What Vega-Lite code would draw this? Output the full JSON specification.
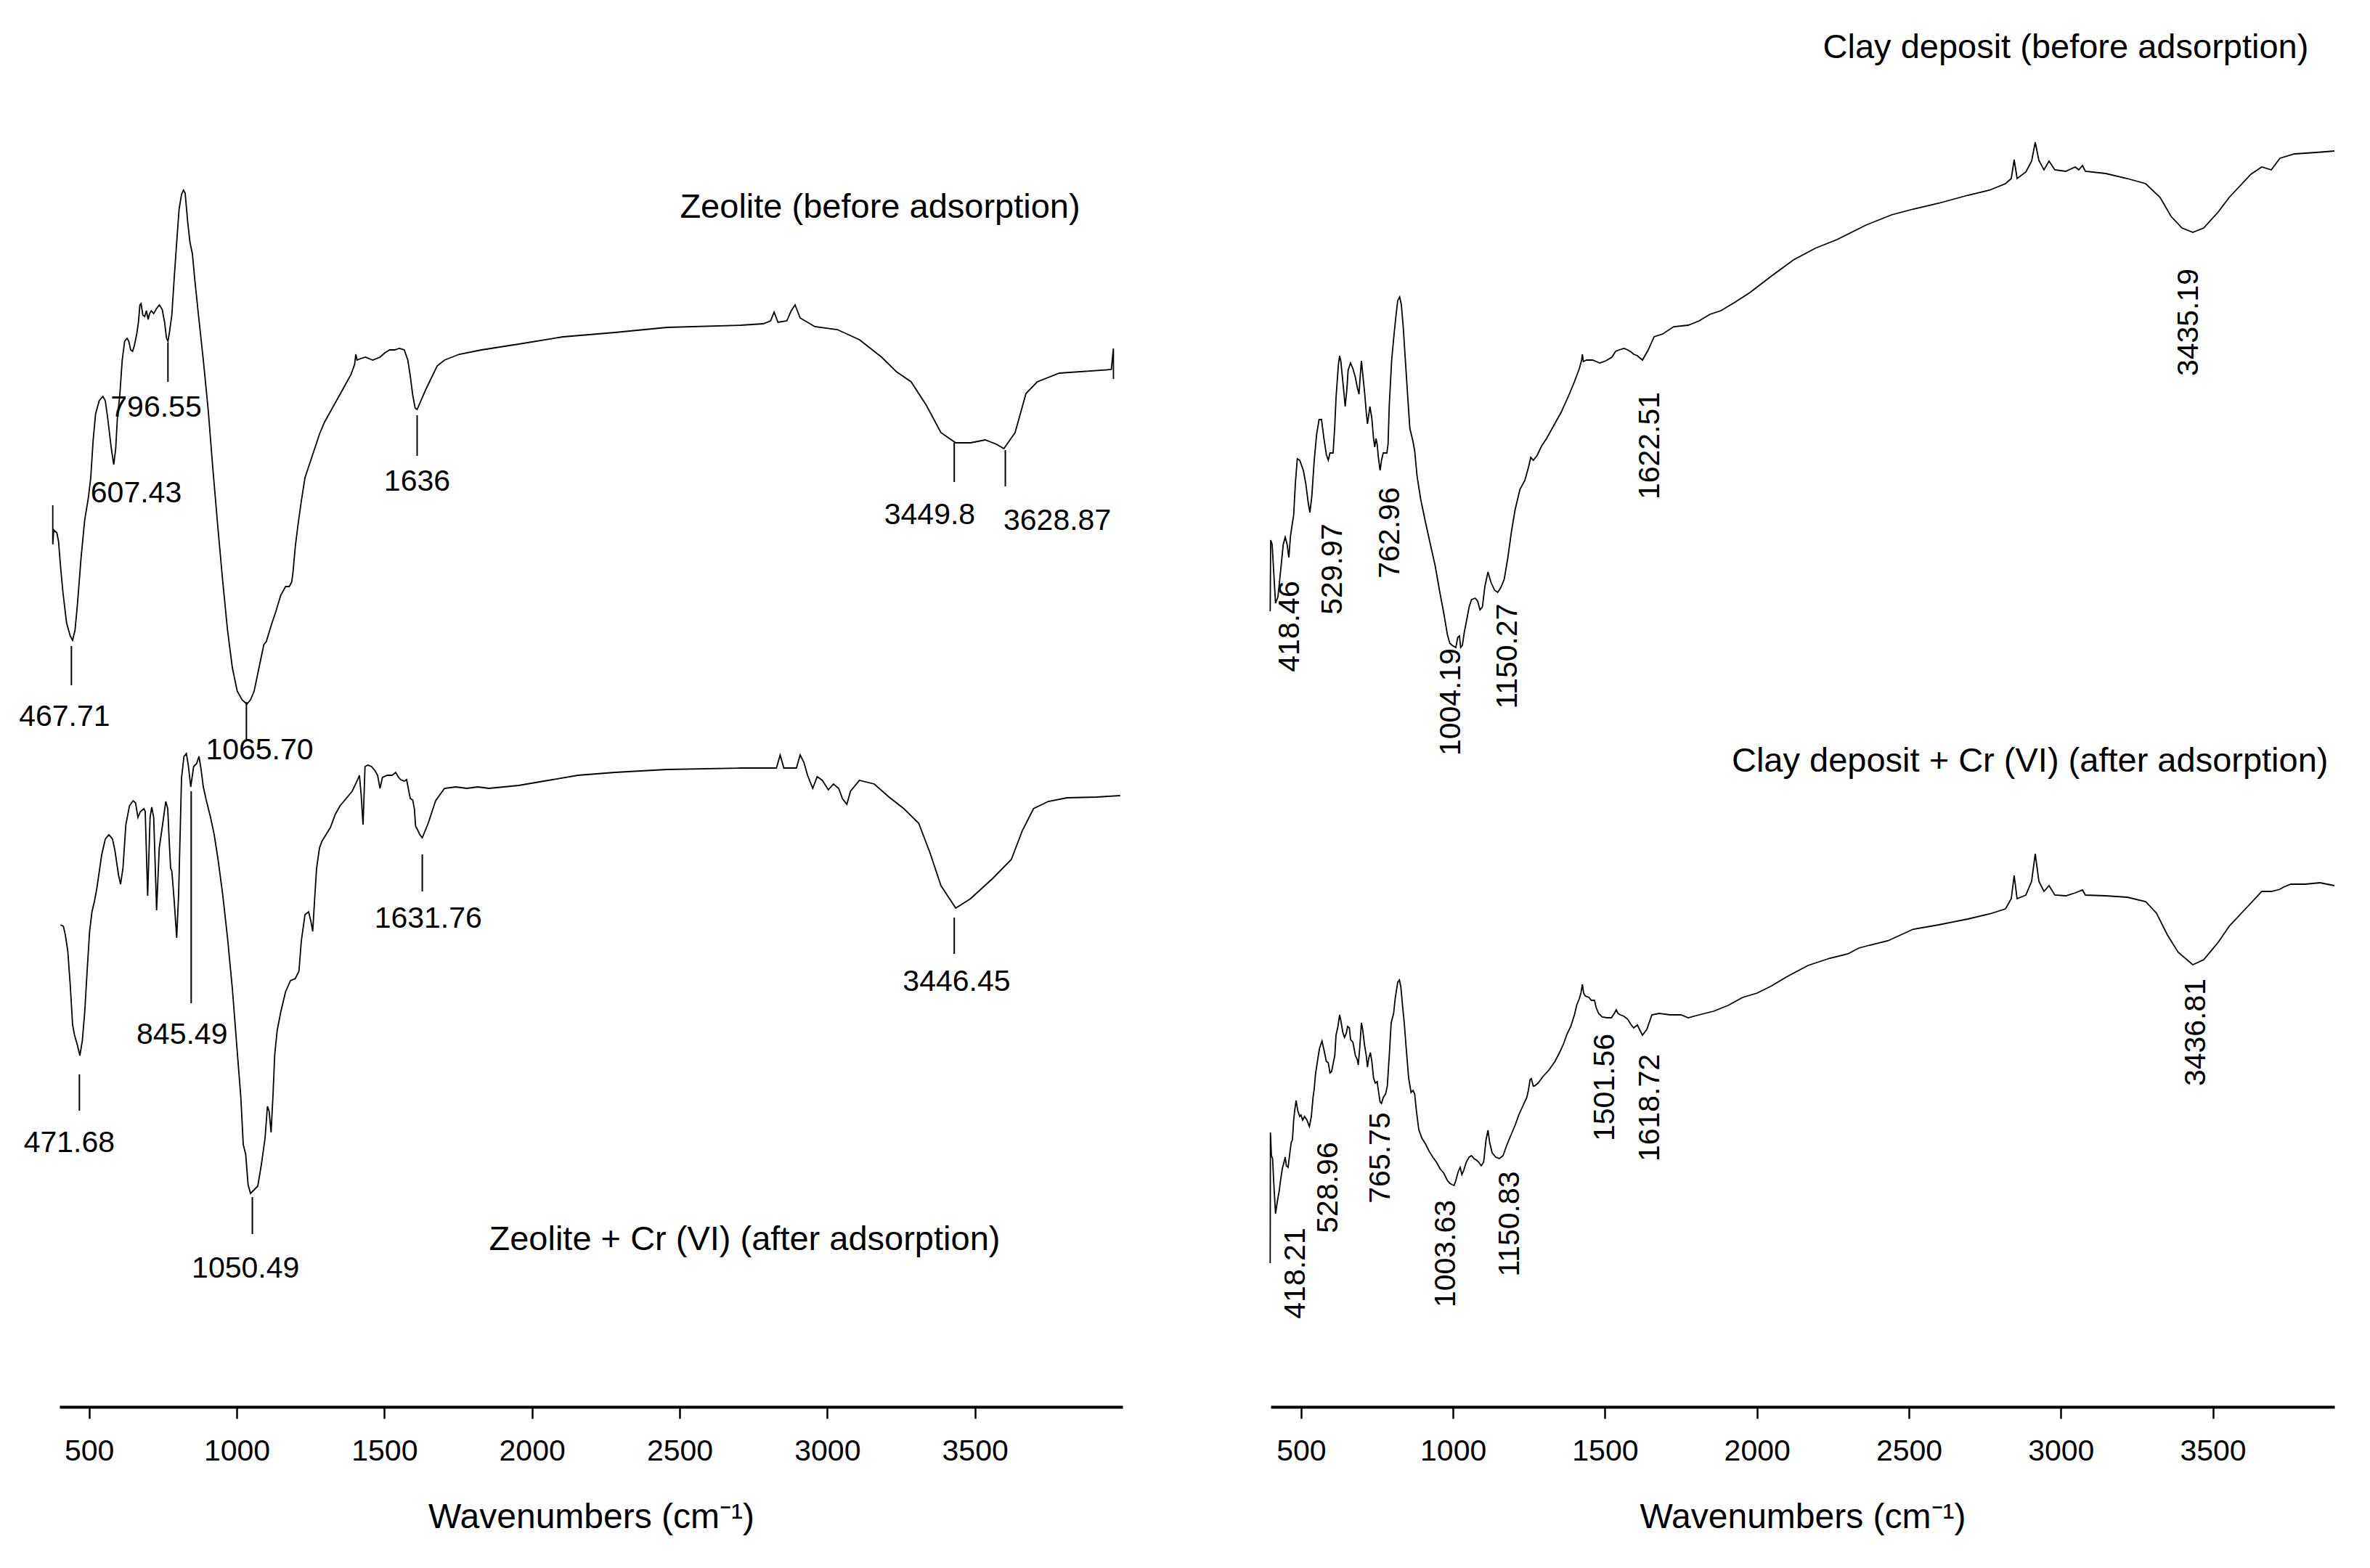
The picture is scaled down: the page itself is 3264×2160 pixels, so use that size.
{
  "$schema": "https://vega.github.io/schema/vega-lite/v6.json",
  "width": 3264,
  "height": 1938,
  "autosize": {"type": "none"},
  "padding": {"left": 0, "top": 0, "right": 0, "bottom": 222},
  "background": "white",
  "config": {"view": {"stroke": null}, "font": "Liberation Sans"},
  "datasets": {
    "zeo": [
      {"s":"a","w":377,"v":62.1},{"s":"a","w":377.1,"v":59.4},{"s":"a","w":380.3,"v":60.4},{"s":"a","w":391,"v":60.2},{"s":"a","w":396.7,"v":59.6},{"s":"a","w":403.3,"v":57.9},{"s":"a","w":411.5,"v":56.1},{"s":"a","w":423.8,"v":54.0},{"s":"a","w":436.1,"v":53.1},{"s":"a","w":444.3,"v":52.8},{"s":"a","w":452.5,"v":53.5},{"s":"a","w":460.7,"v":55.3},{"s":"a","w":473,"v":58.5},{"s":"a","w":485.3,"v":61.1},{"s":"a","w":497.5,"v":62.6},{"s":"a","w":505.7,"v":64.0},{"s":"a","w":513.9,"v":66.6},{"s":"a","w":522.1,"v":68.4},{"s":"a","w":534.4,"v":69.3},{"s":"a","w":546.7,"v":69.6},{"s":"a","w":554.9,"v":69.3},{"s":"a","w":563.1,"v":68.1},{"s":"a","w":575.4,"v":66.0},{"s":"a","w":583.6,"v":64.9},{"s":"a","w":590.2,"v":66.0},{"s":"a","w":595.9,"v":68.1},{"s":"a","w":604.1,"v":69.7},{"s":"a","w":612.3,"v":72.1},{"s":"a","w":620.5,"v":73.4},{"s":"a","w":628.7,"v":73.6},{"s":"a","w":634.4,"v":73.4},{"s":"a","w":641,"v":72.8},{"s":"a","w":647.5,"v":72.7},{"s":"a","w":653.3,"v":73.1},{"s":"a","w":661.5,"v":73.9},{"s":"a","w":667.2,"v":74.7},{"s":"a","w":672.1,"v":75.9},{"s":"a","w":676.2,"v":76.0},{"s":"a","w":682,"v":75.2},{"s":"a","w":688.5,"v":75.1},{"s":"a","w":694.3,"v":75.5},{"s":"a","w":700,"v":74.9},{"s":"a","w":705,"v":75.3},{"s":"a","w":710.7,"v":75.5},{"s":"a","w":718.9,"v":75.3},{"s":"a","w":727.1,"v":75.6},{"s":"a","w":737.7,"v":75.9},{"s":"a","w":747.6,"v":75.6},{"s":"a","w":755.8,"v":74.7},{"s":"a","w":762.3,"v":73.6},{"s":"a","w":767.2,"v":73.4},{"s":"a","w":772.1,"v":74.0},{"s":"a","w":780.3,"v":75.2},{"s":"a","w":788.5,"v":77.8},{"s":"a","w":796.7,"v":80.2},{"s":"a","w":804.9,"v":82.5},{"s":"a","w":813.1,"v":83.5},{"s":"a","w":819.7,"v":83.8},{"s":"a","w":825.4,"v":83.6},{"s":"a","w":833.6,"v":81.7},{"s":"a","w":841.8,"v":80.2},{"s":"a","w":850,"v":79.4},{"s":"a","w":858.2,"v":77.6},{"s":"a","w":870.5,"v":75.2},{"s":"a","w":886.9,"v":72.1},{"s":"a","w":903.3,"v":68.7},{"s":"a","w":919.7,"v":64.5},{"s":"a","w":936.1,"v":60.6},{"s":"a","w":952.5,"v":56.9},{"s":"a","w":968.9,"v":53.5},{"s":"a","w":985.3,"v":50.9},{"s":"a","w":1001.7,"v":49.3},{"s":"a","w":1018,"v":48.7},{"s":"a","w":1034.4,"v":48.4},{"s":"a","w":1046.7,"v":48.7},{"s":"a","w":1059,"v":49.3},{"s":"a","w":1075.4,"v":50.9},{"s":"a","w":1091.8,"v":52.5},{"s":"a","w":1100,"v":52.7},{"s":"a","w":1116.4,"v":53.8},{"s":"a","w":1132.8,"v":54.8},{"s":"a","w":1149.2,"v":55.9},{"s":"a","w":1165.6,"v":56.5},{"s":"a","w":1177.9,"v":56.5},{"s":"a","w":1186.1,"v":56.8},{"s":"a","w":1190.2,"v":57.4},{"s":"a","w":1198.4,"v":59.25},{"s":"a","w":1206.6,"v":60.6},{"s":"a","w":1218.9,"v":62.4},{"s":"a","w":1231.2,"v":64.0},{"s":"a","w":1239.4,"v":64.5},{"s":"a","w":1247.6,"v":65.0},{"s":"a","w":1264,"v":66.0},{"s":"a","w":1280.4,"v":67.0},{"s":"a","w":1296.8,"v":67.8},{"s":"a","w":1321.4,"v":68.7},{"s":"a","w":1346,"v":69.6},{"s":"a","w":1370.6,"v":70.5},{"s":"a","w":1387,"v":71.1},{"s":"a","w":1399.2,"v":71.8},{"s":"a","w":1403.3,"v":72.5},{"s":"a","w":1407.4,"v":72.1},{"s":"a","w":1419.7,"v":72.2},{"s":"a","w":1436.1,"v":72.3},{"s":"a","w":1460.7,"v":72.1},{"s":"a","w":1485.3,"v":72.3},{"s":"a","w":1501.7,"v":72.6},{"s":"a","w":1518.1,"v":72.8},{"s":"a","w":1534.5,"v":72.8},{"s":"a","w":1550.9,"v":72.9},{"s":"a","w":1567.3,"v":72.8},{"s":"a","w":1579.5,"v":72.1},{"s":"a","w":1587.8,"v":71.0},{"s":"a","w":1596,"v":69.7},{"s":"a","w":1604.2,"v":68.8},{"s":"a","w":1611,"v":68.7},{"s":"a","w":1641,"v":70.1},{"s":"a","w":1679,"v":71.7},{"s":"a","w":1704,"v":72.1},{"s":"a","w":1754,"v":72.5},{"s":"a","w":1829,"v":72.8},{"s":"a","w":1955,"v":73.2},{"s":"a","w":2105,"v":73.7},{"s":"a","w":2281,"v":74.0},{"s":"a","w":2457,"v":74.35},{"s":"a","w":2707,"v":74.5},{"s":"a","w":2783,"v":74.6},{"s":"a","w":2808,"v":74.8},{"s":"a","w":2820,"v":75.4},{"s":"a","w":2833,"v":74.7},{"s":"a","w":2863,"v":74.8},{"s":"a","w":2878,"v":75.5},{"s":"a","w":2891,"v":75.9},{"s":"a","w":2908,"v":75.0},{"s":"a","w":2958,"v":74.4},{"s":"a","w":3034,"v":74.2},{"s":"a","w":3109,"v":73.5},{"s":"a","w":3184,"v":72.3},{"s":"a","w":3234,"v":71.3},{"s":"a","w":3284,"v":70.6},{"s":"a","w":3335,"v":69.0},{"s":"a","w":3385,"v":67.1},{"s":"a","w":3435,"v":66.4},{"s":"a","w":3485,"v":66.4},{"s":"a","w":3535,"v":66.6},{"s":"a","w":3573,"v":66.3},{"s":"a","w":3598,"v":66.0},{"s":"a","w":3636,"v":67.1},{"s":"a","w":3673,"v":69.8},{"s":"a","w":3711,"v":70.6},{"s":"a","w":3786,"v":71.2},{"s":"a","w":3962,"v":71.45},{"s":"a","w":3969,"v":72.9},{"s":"a","w":3969.1,"v":70.8},
      {"s":"b","w":403.3,"v":33.2},{"s":"b","w":413.1,"v":33.1},{"s":"b","w":419.7,"v":32.5},{"s":"b","w":427.9,"v":31.4},{"s":"b","w":436.1,"v":29.1},{"s":"b","w":444.3,"v":26.3},{"s":"b","w":450.8,"v":25.6},{"s":"b","w":460.7,"v":24.9},{"s":"b","w":468.9,"v":24.2},{"s":"b","w":477.1,"v":25.2},{"s":"b","w":485.3,"v":27.2},{"s":"b","w":493.4,"v":30.0},{"s":"b","w":501.6,"v":32.7},{"s":"b","w":509.8,"v":34.1},{"s":"b","w":518,"v":34.8},{"s":"b","w":526.2,"v":35.7},{"s":"b","w":542.6,"v":38.0},{"s":"b","w":554.9,"v":39.1},{"s":"b","w":567.2,"v":39.4},{"s":"b","w":579.5,"v":39.1},{"s":"b","w":587.7,"v":38.3},{"s":"b","w":600,"v":36.6},{"s":"b","w":606.6,"v":36.0},{"s":"b","w":614.8,"v":37.1},{"s":"b","w":624.6,"v":40.1},{"s":"b","w":636.9,"v":41.4},{"s":"b","w":649.2,"v":41.75},{"s":"b","w":657.4,"v":41.6},{"s":"b","w":665.6,"v":40.6},{"s":"b","w":673.8,"v":41.0},{"s":"b","w":686.1,"v":41.2},{"s":"b","w":690.2,"v":41.0},{"s":"b","w":698.4,"v":35.2},{"s":"b","w":706.6,"v":40.6},{"s":"b","w":712.3,"v":41.3},{"s":"b","w":718.9,"v":40.6},{"s":"b","w":728.7,"v":34.2},{"s":"b","w":737.7,"v":38.5},{"s":"b","w":747.6,"v":39.9},{"s":"b","w":759.8,"v":41.7},{"s":"b","w":766.4,"v":41.2},{"s":"b","w":772.1,"v":38.7},{"s":"b","w":776.2,"v":37.1},{"s":"b","w":780.3,"v":36.9},{"s":"b","w":788.5,"v":34.8},{"s":"b","w":796.7,"v":32.3},{"s":"b","w":803.3,"v":35.3},{"s":"b","w":813.1,"v":43.3},{"s":"b","w":821.3,"v":44.8},{"s":"b","w":829.5,"v":45.0},{"s":"b","w":836.1,"v":44.2},{"s":"b","w":844.3,"v":42.7},{"s":"b","w":854.1,"v":44.1},{"s":"b","w":864,"v":44.3},{"s":"b","w":872.2,"v":44.8},{"s":"b","w":878.7,"v":44.0},{"s":"b","w":886.9,"v":42.7},{"s":"b","w":896.7,"v":41.8},{"s":"b","w":911.5,"v":40.6},{"s":"b","w":923.8,"v":39.4},{"s":"b","w":936.1,"v":37.8},{"s":"b","w":952.5,"v":35.3},{"s":"b","w":968.9,"v":32.3},{"s":"b","w":985.3,"v":28.8},{"s":"b","w":1001.7,"v":24.5},{"s":"b","w":1014,"v":21.3},{"s":"b","w":1022.2,"v":18.05},{"s":"b","w":1030.4,"v":17.4},{"s":"b","w":1038.5,"v":15.3},{"s":"b","w":1046.7,"v":14.7},{"s":"b","w":1059,"v":14.95},{"s":"b","w":1071.3,"v":15.2},{"s":"b","w":1083.6,"v":16.7},{"s":"b","w":1095.9,"v":18.5},{"s":"b","w":1104.1,"v":20.7},{"s":"b","w":1109.9,"v":20.35},{"s":"b","w":1116.4,"v":18.9},{"s":"b","w":1123,"v":21.5},{"s":"b","w":1128.7,"v":24.25},{"s":"b","w":1136.9,"v":25.9},{"s":"b","w":1149.2,"v":27.2},{"s":"b","w":1165.6,"v":28.6},{"s":"b","w":1182,"v":29.35},{"s":"b","w":1198.4,"v":29.5},{"s":"b","w":1210.7,"v":30.0},{"s":"b","w":1218.9,"v":32.1},{"s":"b","w":1231.2,"v":33.9},{"s":"b","w":1243.5,"v":34.1},{"s":"b","w":1251.7,"v":33.4},{"s":"b","w":1257.4,"v":32.75},{"s":"b","w":1264,"v":35.0},{"s":"b","w":1270.5,"v":37.1},{"s":"b","w":1280.4,"v":38.5},{"s":"b","w":1288.6,"v":38.95},{"s":"b","w":1305,"v":39.5},{"s":"b","w":1317.2,"v":39.9},{"s":"b","w":1333.6,"v":40.8},{"s":"b","w":1350,"v":41.4},{"s":"b","w":1370.6,"v":41.9},{"s":"b","w":1391,"v":42.4},{"s":"b","w":1407.4,"v":43.1},{"s":"b","w":1415.6,"v":43.5},{"s":"b","w":1421.3,"v":42.2},{"s":"b","w":1427.9,"v":40.1},{"s":"b","w":1434.5,"v":44.1},{"s":"b","w":1444.3,"v":44.2},{"s":"b","w":1456.6,"v":44.1},{"s":"b","w":1468.9,"v":43.8},{"s":"b","w":1477.1,"v":43.5},{"s":"b","w":1485.3,"v":42.6},{"s":"b","w":1493.5,"v":43.35},{"s":"b","w":1509.9,"v":43.5},{"s":"b","w":1526.3,"v":43.5},{"s":"b","w":1538.6,"v":43.7},{"s":"b","w":1546.8,"v":43.4},{"s":"b","w":1555,"v":43.2},{"s":"b","w":1567.3,"v":43.1},{"s":"b","w":1575.5,"v":43.2},{"s":"b","w":1582,"v":42.5},{"s":"b","w":1587.8,"v":41.9},{"s":"b","w":1596,"v":41.8},{"s":"b","w":1601.7,"v":41.2},{"s":"b","w":1605.8,"v":40.0},{"s":"b","w":1612.3,"v":39.75},{"s":"b","w":1620.5,"v":39.4},{"s":"b","w":1628.5,"v":39.2},{"s":"b","w":1648.6,"v":40.2},{"s":"b","w":1673.7,"v":41.75},{"s":"b","w":1703.8,"v":42.6},{"s":"b","w":1741.4,"v":42.7},{"s":"b","w":1779.1,"v":42.6},{"s":"b","w":1816.7,"v":42.7},{"s":"b","w":1854.3,"v":42.6},{"s":"b","w":1904.5,"v":42.7},{"s":"b","w":1954.7,"v":42.8},{"s":"b","w":2055.1,"v":43.15},{"s":"b","w":2155.4,"v":43.5},{"s":"b","w":2280.9,"v":43.7},{"s":"b","w":2456.5,"v":43.9},{"s":"b","w":2707.4,"v":44.0},{"s":"b","w":2827.9,"v":44.0},{"s":"b","w":2840.4,"v":44.9},{"s":"b","w":2852.9,"v":44.0},{"s":"b","w":2895.6,"v":44.0},{"s":"b","w":2908.1,"v":44.9},{"s":"b","w":2920.7,"v":44.4},{"s":"b","w":2933.2,"v":43.5},{"s":"b","w":2950.8,"v":42.6},{"s":"b","w":2965.8,"v":43.4},{"s":"b","w":2983.4,"v":43.15},{"s":"b","w":3003.5,"v":42.5},{"s":"b","w":3021,"v":42.9},{"s":"b","w":3038.6,"v":42.6},{"s":"b","w":3051.2,"v":41.9},{"s":"b","w":3066.2,"v":41.5},{"s":"b","w":3078.7,"v":42.4},{"s":"b","w":3108.8,"v":43.15},{"s":"b","w":3159,"v":42.9},{"s":"b","w":3209.2,"v":42.0},{"s":"b","w":3259.4,"v":41.2},{"s":"b","w":3309.6,"v":40.2},{"s":"b","w":3347.2,"v":38.2},{"s":"b","w":3385,"v":35.9},{"s":"b","w":3435,"v":34.35},{"s":"b","w":3485.2,"v":35.0},{"s":"b","w":3560.5,"v":36.4},{"s":"b","w":3623.2,"v":37.7},{"s":"b","w":3660.8,"v":39.7},{"s":"b","w":3698.4,"v":41.2},{"s":"b","w":3748.6,"v":41.7},{"s":"b","w":3811.4,"v":41.95},{"s":"b","w":3911.7,"v":42.0},{"s":"b","w":3992,"v":42.1}
    ],
    "clay": [
      {"s":"a","w":398.4,"v":54.8},{"s":"a","w":400,"v":59.7},{"s":"a","w":404.8,"v":59.4},{"s":"a","w":415.9,"v":55.35},{"s":"a","w":423.9,"v":55.8},{"s":"a","w":431.8,"v":57.4},{"s":"a","w":441.4,"v":59.4},{"s":"a","w":447.8,"v":59.9},{"s":"a","w":454.1,"v":59.4},{"s":"a","w":459.7,"v":58.5},{"s":"a","w":465.3,"v":60.0},{"s":"a","w":471.6,"v":60.9},{"s":"a","w":475.6,"v":61.4},{"s":"a","w":481.2,"v":63.6},{"s":"a","w":487.6,"v":65.3},{"s":"a","w":495.5,"v":65.2},{"s":"a","w":507.5,"v":64.5},{"s":"a","w":515.4,"v":63.6},{"s":"a","w":523.4,"v":62.3},{"s":"a","w":529,"v":61.6},{"s":"a","w":535.3,"v":62.7},{"s":"a","w":543.3,"v":65.2},{"s":"a","w":551.3,"v":67.0},{"s":"a","w":559.2,"v":68.0},{"s":"a","w":567.2,"v":68.0},{"s":"a","w":575.2,"v":66.7},{"s":"a","w":583.1,"v":65.6},{"s":"a","w":589.5,"v":65.2},{"s":"a","w":595.1,"v":65.7},{"s":"a","w":605.4,"v":65.7},{"s":"a","w":611,"v":67.6},{"s":"a","w":615,"v":69.5},{"s":"a","w":622.9,"v":71.8},{"s":"a","w":626.9,"v":72.4},{"s":"a","w":630.9,"v":72.0},{"s":"a","w":638.9,"v":70.3},{"s":"a","w":645.2,"v":68.9},{"s":"a","w":650.8,"v":70.1},{"s":"a","w":654.8,"v":71.4},{"s":"a","w":662.8,"v":71.9},{"s":"a","w":670.7,"v":71.5},{"s":"a","w":678.7,"v":70.9},{"s":"a","w":685.1,"v":70.2},{"s":"a","w":690.6,"v":69.75},{"s":"a","w":694.6,"v":71.0},{"s":"a","w":698.6,"v":72.05},{"s":"a","w":702.6,"v":71.2},{"s":"a","w":708.9,"v":69.9},{"s":"a","w":714.5,"v":68.5},{"s":"a","w":718.5,"v":67.7},{"s":"a","w":722.5,"v":68.3},{"s":"a","w":726.5,"v":68.9},{"s":"a","w":732.8,"v":68.1},{"s":"a","w":738.4,"v":66.7},{"s":"a","w":742.4,"v":66.1},{"s":"a","w":746.4,"v":66.7},{"s":"a","w":750.4,"v":66.3},{"s":"a","w":754.3,"v":65.4},{"s":"a","w":760,"v":64.5},{"s":"a","w":764.7,"v":65.2},{"s":"a","w":770.3,"v":65.7},{"s":"a","w":782.2,"v":65.7},{"s":"a","w":786.2,"v":66.3},{"s":"a","w":790.2,"v":69.0},{"s":"a","w":798.1,"v":72.1},{"s":"a","w":806.1,"v":73.9},{"s":"a","w":812.5,"v":75.2},{"s":"a","w":818,"v":76.2},{"s":"a","w":824.4,"v":76.45},{"s":"a","w":830,"v":75.9},{"s":"a","w":836.4,"v":74.3},{"s":"a","w":841.9,"v":72.5},{"s":"a","w":849.9,"v":69.9},{"s":"a","w":857.9,"v":67.4},{"s":"a","w":868.2,"v":66.5},{"s":"a","w":873.8,"v":65.85},{"s":"a","w":881.7,"v":64.1},{"s":"a","w":893.7,"v":62.5},{"s":"a","w":909.6,"v":60.9},{"s":"a","w":925.5,"v":59.4},{"s":"a","w":941.5,"v":57.9},{"s":"a","w":957.4,"v":56.0},{"s":"a","w":969.3,"v":54.7},{"s":"a","w":981.3,"v":53.2},{"s":"a","w":989.2,"v":52.6},{"s":"a","w":997.2,"v":52.45},{"s":"a","w":1009.2,"v":52.3},{"s":"a","w":1015.5,"v":53.0},{"s":"a","w":1021.1,"v":53.1},{"s":"a","w":1025.1,"v":52.3},{"s":"a","w":1030.7,"v":52.45},{"s":"a","w":1037,"v":53.35},{"s":"a","w":1045,"v":54.2},{"s":"a","w":1053,"v":55.1},{"s":"a","w":1060.9,"v":55.6},{"s":"a","w":1072.9,"v":55.7},{"s":"a","w":1080.8,"v":55.5},{"s":"a","w":1088.8,"v":54.9},{"s":"a","w":1096.7,"v":55.1},{"s":"a","w":1104.7,"v":56.5},{"s":"a","w":1115,"v":57.5},{"s":"a","w":1124.6,"v":56.8},{"s":"a","w":1136.6,"v":56.25},{"s":"a","w":1146.9,"v":56.1},{"s":"a","w":1156.5,"v":56.4},{"s":"a","w":1168.4,"v":57.0},{"s":"a","w":1180.4,"v":58.5},{"s":"a","w":1192.3,"v":60.3},{"s":"a","w":1204.3,"v":61.8},{"s":"a","w":1220.2,"v":63.2},{"s":"a","w":1236.1,"v":63.8},{"s":"a","w":1248,"v":64.7},{"s":"a","w":1256,"v":65.4},{"s":"a","w":1264,"v":65.2},{"s":"a","w":1275.9,"v":65.5},{"s":"a","w":1291.9,"v":66.2},{"s":"a","w":1307.8,"v":66.7},{"s":"a","w":1331.7,"v":67.6},{"s":"a","w":1355.5,"v":68.5},{"s":"a","w":1379.4,"v":69.6},{"s":"a","w":1399.3,"v":70.6},{"s":"a","w":1415.3,"v":71.5},{"s":"a","w":1423.2,"v":72.1},{"s":"a","w":1425.6,"v":72.5},{"s":"a","w":1428.8,"v":72.0},{"s":"a","w":1439.2,"v":72.1},{"s":"a","w":1459.1,"v":72.1},{"s":"a","w":1471,"v":72.0},{"s":"a","w":1483,"v":71.9},{"s":"a","w":1502.9,"v":72.05},{"s":"a","w":1522.8,"v":72.3},{"s":"a","w":1534.7,"v":72.7},{"s":"a","w":1546.7,"v":72.8},{"s":"a","w":1562.6,"v":72.9},{"s":"a","w":1574.5,"v":72.8},{"s":"a","w":1586.5,"v":72.65},{"s":"a","w":1594.4,"v":72.5},{"s":"a","w":1606.5,"v":72.4},{"s":"a","w":1623.2,"v":72.1},{"s":"a","w":1642.3,"v":72.8},{"s":"a","w":1661.4,"v":73.7},{"s":"a","w":1690.1,"v":73.9},{"s":"a","w":1726,"v":74.4},{"s":"a","w":1773.7,"v":74.5},{"s":"a","w":1809.6,"v":74.8},{"s":"a","w":1845.4,"v":75.25},{"s":"a","w":1881.2,"v":75.5},{"s":"a","w":1929,"v":76.1},{"s":"a","w":1976.8,"v":76.75},{"s":"a","w":2048.5,"v":77.9},{"s":"a","w":2120.2,"v":79.0},{"s":"a","w":2191.8,"v":79.8},{"s":"a","w":2263.5,"v":80.4},{"s":"a","w":2359,"v":81.4},{"s":"a","w":2442.7,"v":82.1},{"s":"a","w":2514.3,"v":82.5},{"s":"a","w":2597.9,"v":82.9},{"s":"a","w":2693.5,"v":83.45},{"s":"a","w":2765.1,"v":83.8},{"s":"a","w":2817.7,"v":84.25},{"s":"a","w":2836.7,"v":84.6},{"s":"a","w":2846.3,"v":85.9},{"s":"a","w":2855.9,"v":84.6},{"s":"a","w":2884.6,"v":85.05},{"s":"a","w":2903.7,"v":85.8},{"s":"a","w":2915.6,"v":87.1},{"s":"a","w":2927.6,"v":85.85},{"s":"a","w":2944.3,"v":85.2},{"s":"a","w":2961,"v":85.8},{"s":"a","w":2980.1,"v":85.2},{"s":"a","w":3016,"v":85.1},{"s":"a","w":3047.1,"v":85.4},{"s":"a","w":3059,"v":85.2},{"s":"a","w":3071,"v":85.5},{"s":"a","w":3080.6,"v":85.1},{"s":"a","w":3147.4,"v":84.95},{"s":"a","w":3219.1,"v":84.6},{"s":"a","w":3278.8,"v":84.25},{"s":"a","w":3326.6,"v":83.3},{"s":"a","w":3362.4,"v":82.0},{"s":"a","w":3398.3,"v":81.2},{"s":"a","w":3434.1,"v":80.9},{"s":"a","w":3470,"v":81.2},{"s":"a","w":3517.8,"v":82.3},{"s":"a","w":3553.6,"v":83.3},{"s":"a","w":3589.4,"v":84.1},{"s":"a","w":3625.3,"v":84.9},{"s":"a","w":3661.1,"v":85.4},{"s":"a","w":3692.2,"v":85.2},{"s":"a","w":3720.8,"v":86.0},{"s":"a","w":3768.6,"v":86.3},{"s":"a","w":3840.3,"v":86.4},{"s":"a","w":3900,"v":86.5},
      {"s":"b","w":398.4,"v":9.9},{"s":"b","w":399.2,"v":18.9},{"s":"b","w":402.4,"v":17.3},{"s":"b","w":406.3,"v":17.1},{"s":"b","w":409.5,"v":15.7},{"s":"b","w":415.9,"v":13.3},{"s":"b","w":422.3,"v":14.2},{"s":"b","w":427.9,"v":14.85},{"s":"b","w":431.8,"v":15.5},{"s":"b","w":438.2,"v":16.4},{"s":"b","w":443.8,"v":16.85},{"s":"b","w":447.8,"v":17.2},{"s":"b","w":451.7,"v":16.6},{"s":"b","w":457.3,"v":16.5},{"s":"b","w":463.7,"v":17.6},{"s":"b","w":467.7,"v":18.2},{"s":"b","w":471.6,"v":18.4},{"s":"b","w":475.6,"v":19.75},{"s":"b","w":479.6,"v":20.5},{"s":"b","w":483.6,"v":21.1},{"s":"b","w":489.2,"v":20.4},{"s":"b","w":495.5,"v":20.0},{"s":"b","w":499.5,"v":20.1},{"s":"b","w":505.1,"v":19.75},{"s":"b","w":511.5,"v":20.0},{"s":"b","w":519.4,"v":19.75},{"s":"b","w":527.4,"v":19.3},{"s":"b","w":533.8,"v":20.0},{"s":"b","w":539.3,"v":21.3},{"s":"b","w":543.3,"v":21.9},{"s":"b","w":547.3,"v":22.9},{"s":"b","w":555.3,"v":24.0},{"s":"b","w":560.8,"v":24.7},{"s":"b","w":568.8,"v":25.2},{"s":"b","w":575.2,"v":24.6},{"s":"b","w":583.1,"v":23.8},{"s":"b","w":589.5,"v":23.7},{"s":"b","w":595.1,"v":23.0},{"s":"b","w":600.6,"v":23.1},{"s":"b","w":607,"v":23.8},{"s":"b","w":611,"v":24.2},{"s":"b","w":615,"v":25.6},{"s":"b","w":621.3,"v":26.2},{"s":"b","w":626.9,"v":27.0},{"s":"b","w":630.9,"v":26.6},{"s":"b","w":637.3,"v":25.8},{"s":"b","w":642.9,"v":25.45},{"s":"b","w":648.4,"v":25.7},{"s":"b","w":653.2,"v":26.2},{"s":"b","w":658.8,"v":26.1},{"s":"b","w":662.8,"v":25.3},{"s":"b","w":670.7,"v":25.1},{"s":"b","w":678.7,"v":24.2},{"s":"b","w":685.1,"v":23.9},{"s":"b","w":688.2,"v":23.55},{"s":"b","w":693,"v":24.7},{"s":"b","w":698.6,"v":26.45},{"s":"b","w":702.6,"v":26.0},{"s":"b","w":708.9,"v":24.9},{"s":"b","w":714.5,"v":24.2},{"s":"b","w":718.5,"v":23.4},{"s":"b","w":722.5,"v":24.0},{"s":"b","w":728.1,"v":24.4},{"s":"b","w":732.8,"v":23.8},{"s":"b","w":738.4,"v":22.66},{"s":"b","w":744,"v":22.3},{"s":"b","w":750.4,"v":22.4},{"s":"b","w":754.3,"v":21.8},{"s":"b","w":760,"v":21.0},{"s":"b","w":764.7,"v":20.9},{"s":"b","w":770.3,"v":21.3},{"s":"b","w":778.2,"v":21.55},{"s":"b","w":783.8,"v":22.1},{"s":"b","w":790.2,"v":24.2},{"s":"b","w":796.5,"v":26.45},{"s":"b","w":804.5,"v":27.1},{"s":"b","w":810.1,"v":28.2},{"s":"b","w":818,"v":29.24},{"s":"b","w":823.6,"v":29.4},{"s":"b","w":828.4,"v":28.9},{"s":"b","w":834,"v":27.6},{"s":"b","w":839.5,"v":26.45},{"s":"b","w":845.9,"v":24.7},{"s":"b","w":853.9,"v":22.66},{"s":"b","w":861.8,"v":21.65},{"s":"b","w":868.2,"v":21.8},{"s":"b","w":873.8,"v":21.55},{"s":"b","w":879.4,"v":20.4},{"s":"b","w":887.3,"v":19.1},{"s":"b","w":897.7,"v":18.5},{"s":"b","w":909.6,"v":18.1},{"s":"b","w":921.5,"v":17.6},{"s":"b","w":933.5,"v":17.2},{"s":"b","w":945.4,"v":16.85},{"s":"b","w":957.4,"v":16.4},{"s":"b","w":969.3,"v":16.1},{"s":"b","w":981.3,"v":15.6},{"s":"b","w":989.2,"v":15.4},{"s":"b","w":997.2,"v":15.3},{"s":"b","w":1003.6,"v":15.25},{"s":"b","w":1009.2,"v":15.6},{"s":"b","w":1017.1,"v":16.2},{"s":"b","w":1023.5,"v":16.5},{"s":"b","w":1029.1,"v":16.0},{"s":"b","w":1035.4,"v":16.3},{"s":"b","w":1043.4,"v":16.85},{"s":"b","w":1052.9,"v":17.2},{"s":"b","w":1060.9,"v":17.3},{"s":"b","w":1068.9,"v":17.1},{"s":"b","w":1076.8,"v":17.0},{"s":"b","w":1084.8,"v":16.85},{"s":"b","w":1092.8,"v":16.6},{"s":"b","w":1100.7,"v":16.85},{"s":"b","w":1108.7,"v":18.4},{"s":"b","w":1115,"v":19.05},{"s":"b","w":1120.6,"v":18.2},{"s":"b","w":1128.6,"v":17.5},{"s":"b","w":1140.5,"v":17.2},{"s":"b","w":1152.5,"v":17.1},{"s":"b","w":1164.4,"v":17.3},{"s":"b","w":1176.4,"v":18.0},{"s":"b","w":1188.3,"v":18.6},{"s":"b","w":1204.3,"v":19.4},{"s":"b","w":1216.2,"v":20.1},{"s":"b","w":1228.1,"v":20.65},{"s":"b","w":1242.5,"v":21.3},{"s":"b","w":1248,"v":21.8},{"s":"b","w":1253.6,"v":22.55},{"s":"b","w":1257.6,"v":22.6},{"s":"b","w":1264,"v":22.1},{"s":"b","w":1267.9,"v":22.1},{"s":"b","w":1279.9,"v":22.3},{"s":"b","w":1295.8,"v":22.75},{"s":"b","w":1315.7,"v":23.2},{"s":"b","w":1335.6,"v":23.8},{"s":"b","w":1351.6,"v":24.45},{"s":"b","w":1363.5,"v":25.0},{"s":"b","w":1375.5,"v":25.7},{"s":"b","w":1387.4,"v":26.2},{"s":"b","w":1399.4,"v":27.0},{"s":"b","w":1407.3,"v":27.7},{"s":"b","w":1415.3,"v":28.1},{"s":"b","w":1420.8,"v":28.5},{"s":"b","w":1425.6,"v":29.1},{"s":"b","w":1429.6,"v":28.5},{"s":"b","w":1435.2,"v":28.3},{"s":"b","w":1447.1,"v":28.2},{"s":"b","w":1455.1,"v":28.0},{"s":"b","w":1465.4,"v":28.0},{"s":"b","w":1471,"v":27.5},{"s":"b","w":1479,"v":27.1},{"s":"b","w":1490.9,"v":26.85},{"s":"b","w":1506.8,"v":26.8},{"s":"b","w":1521.2,"v":26.8},{"s":"b","w":1530.7,"v":27.1},{"s":"b","w":1537.1,"v":27.35},{"s":"b","w":1542.7,"v":27.1},{"s":"b","w":1550.6,"v":27.0},{"s":"b","w":1562.6,"v":26.9},{"s":"b","w":1574.5,"v":26.7},{"s":"b","w":1586.5,"v":26.3},{"s":"b","w":1594.4,"v":26.1},{"s":"b","w":1606.5,"v":26.3},{"s":"b","w":1623.2,"v":25.6},{"s":"b","w":1637.6,"v":26.0},{"s":"b","w":1654.3,"v":27.0},{"s":"b","w":1678.2,"v":27.1},{"s":"b","w":1714,"v":27.0},{"s":"b","w":1749.9,"v":27.0},{"s":"b","w":1773.7,"v":26.8},{"s":"b","w":1809.6,"v":27.0},{"s":"b","w":1857.4,"v":27.25},{"s":"b","w":1905.1,"v":27.65},{"s":"b","w":1952.9,"v":28.2},{"s":"b","w":2000.7,"v":28.5},{"s":"b","w":2048.5,"v":29.0},{"s":"b","w":2096.2,"v":29.6},{"s":"b","w":2167.9,"v":30.4},{"s":"b","w":2239.6,"v":30.9},{"s":"b","w":2299.3,"v":31.2},{"s":"b","w":2335.1,"v":31.6},{"s":"b","w":2371,"v":31.8},{"s":"b","w":2430.7,"v":32.1},{"s":"b","w":2514.3,"v":32.9},{"s":"b","w":2597.9,"v":33.2},{"s":"b","w":2693.5,"v":33.6},{"s":"b","w":2765.1,"v":33.95},{"s":"b","w":2817.7,"v":34.3},{"s":"b","w":2836.7,"v":35.0},{"s":"b","w":2846.3,"v":36.6},{"s":"b","w":2855.9,"v":35.0},{"s":"b","w":2884.6,"v":35.25},{"s":"b","w":2903.7,"v":36.2},{"s":"b","w":2915.6,"v":38.1},{"s":"b","w":2927.6,"v":36.2},{"s":"b","w":2944.3,"v":35.5},{"s":"b","w":2961,"v":35.9},{"s":"b","w":2980.1,"v":35.25},{"s":"b","w":3016,"v":35.2},{"s":"b","w":3047.1,"v":35.4},{"s":"b","w":3071,"v":35.6},{"s":"b","w":3080.6,"v":35.25},{"s":"b","w":3147.4,"v":35.2},{"s":"b","w":3219.1,"v":35.1},{"s":"b","w":3278.8,"v":34.8},{"s":"b","w":3314.6,"v":34.0},{"s":"b","w":3350.5,"v":32.5},{"s":"b","w":3386.3,"v":31.3},{"s":"b","w":3434.1,"v":30.45},{"s":"b","w":3470,"v":30.8},{"s":"b","w":3517.8,"v":32.0},{"s":"b","w":3553.6,"v":33.1},{"s":"b","w":3589.4,"v":33.9},{"s":"b","w":3625.3,"v":34.7},{"s":"b","w":3661.1,"v":35.5},{"s":"b","w":3692.2,"v":35.5},{"s":"b","w":3720.8,"v":35.65},{"s":"b","w":3732.8,"v":35.8},{"s":"b","w":3756.6,"v":36.0},{"s":"b","w":3804.4,"v":36.0},{"s":"b","w":3852.2,"v":36.1},{"s":"b","w":3900,"v":35.9}
    ],
    "zeoRules": [
      {"w":440.2,"y1":52.4,"y2":49.7},{"w":767.2,"y1":73.3,"y2":70.6},{"w":1032.8,"y1":48.55,"y2":45.9},{"w":1611,"y1":68.3,"y2":65.5},{"w":3430,"y1":66.4,"y2":63.7},{"w":3603,"y1":65.9,"y2":63.4},
      {"w":467.2,"y1":22.9,"y2":20.4},{"w":845.9,"y1":42.4,"y2":27.8},{"w":1053,"y1":14.45,"y2":11.9},{"w":1628.5,"y1":38.05,"y2":35.5},{"w":3430,"y1":33.7,"y2":31.2}
    ],
    "zeoText": [
      {"w":417,"v":47.5,"t":"467.71"},{"w":659.4,"v":62.9,"t":"607.43"},{"w":727,"v":68.8,"t":"796.55"},{"w":1077.5,"v":45.2,"t":"1065.70"},{"w":1611,"v":63.7,"t":"1636"},{"w":3347,"v":61.4,"t":"3449.8"},{"w":3779,"v":61.0,"t":"3628.87"},
      {"w":433,"v":18.15,"t":"471.68"},{"w":815,"v":25.6,"t":"845.49"},{"w":1030,"v":9.5,"t":"1050.49"},{"w":1648.6,"v":33.6,"t":"1631.76"},{"w":3438,"v":29.25,"t":"3446.45"}
    ],
    "zeoTitles": [
      {"w":2501,"v":82.6,"t":"Zeolite (before adsorption)"},
      {"w":1854.5,"v":11.5,"t":"Zeolite + Cr (VI) (after adsorption)"}
    ],
    "clayText": [
      {"w":463.7,"v":53.75,"t":"418.46"},{"w":604.6,"v":57.7,"t":"529.97"},{"w":794.2,"v":60.2,"t":"762.96"},{"w":995.6,"v":48.55,"t":"1004.19"},{"w":1182,"v":51.7,"t":"1150.27"},{"w":1650.6,"v":66.2,"t":"1622.51"},{"w":3421,"v":74.7,"t":"3435.19"},
      {"w":483.6,"v":9.2,"t":"418.21"},{"w":591.1,"v":15.1,"t":"528.96"},{"w":762.3,"v":17.15,"t":"765.75"},{"w":977.3,"v":10.55,"t":"1003.63"},{"w":1188.3,"v":12.6,"t":"1150.83"},{"w":1502,"v":22.0,"t":"1501.56"},{"w":1650.6,"v":20.6,"t":"1618.72"},{"w":3445,"v":25.8,"t":"3436.81"}
    ],
    "clayTitles": [
      {"w":2217,"v":93.6,"t":"Clay deposit (before adsorption)"},
      {"w":1917,"v":44.45,"t":"Clay deposit + Cr (VI) (after adsorption)"}
    ]
  },
  "layer": [
    {
      "encoding": {
        "x": {
          "field": "w", "type": "quantitative",
          "scale": {"domain": [400, 4000], "range": [82, 1546], "nice": false, "zero": false},
          "axis": {
            "orient": "bottom", "values": [500,1000,1500,2000,2500,3000,3500], "format": "d",
            "grid": false, "domainColor": "black", "domainWidth": 4, "tickColor": "black", "tickWidth": 2.5, "tickSize": 16,
            "labelFont": "Liberation Sans", "labelFontSize": 41, "labelColor": "black", "labelPadding": 25, "labelFlush": false, "labelOverlap": false,
            "title": "Wavenumbers (cm⁻¹)", "titleFont": "Liberation Sans", "titleFontSize": 48, "titleFontWeight": "normal", "titleColor": "black", "titleY": 128, "titleBaseline": "top"
          }
        }
      },
      "layer": [
        {
          "data": {"name": "zeo"},
          "mark": {"type": "line", "color": "black", "strokeWidth": 1.8},
          "encoding": {
            "y": {"field": "v", "type": "quantitative", "scale": {"domain": [0, 96.9], "nice": false, "zero": false}, "axis": null},
            "detail": {"field": "s"}
          }
        },
        {
          "data": {"name": "zeoRules"},
          "mark": {"type": "rule", "color": "black", "strokeWidth": 2},
          "encoding": {
            "y": {"field": "y1", "type": "quantitative", "scale": {"domain": [0, 96.9], "nice": false, "zero": false}, "axis": null},
            "y2": {"field": "y2"}
          }
        },
        {
          "data": {"name": "zeoText"},
          "mark": {"type": "text", "font": "Liberation Sans", "fontSize": 41, "color": "black", "align": "center", "baseline": "middle"},
          "encoding": {
            "y": {"field": "v", "type": "quantitative", "scale": {"domain": [0, 96.9], "nice": false, "zero": false}, "axis": null},
            "text": {"field": "t"}
          }
        },
        {
          "data": {"name": "zeoTitles"},
          "mark": {"type": "text", "font": "Liberation Sans", "fontSize": 47, "color": "black", "align": "left", "baseline": "middle"},
          "encoding": {
            "y": {"field": "v", "type": "quantitative", "scale": {"domain": [0, 96.9], "nice": false, "zero": false}, "axis": null},
            "text": {"field": "t"}
          }
        }
      ]
    },
    {
      "encoding": {
        "x": {
          "field": "w", "type": "quantitative",
          "scale": {"domain": [400, 3900], "range": [1750, 3215], "nice": false, "zero": false},
          "axis": {
            "orient": "bottom", "values": [500,1000,1500,2000,2500,3000,3500], "format": "d",
            "grid": false, "domainColor": "black", "domainWidth": 4, "tickColor": "black", "tickWidth": 2.5, "tickSize": 16,
            "labelFont": "Liberation Sans", "labelFontSize": 41, "labelColor": "black", "labelPadding": 25, "labelFlush": false, "labelOverlap": false,
            "title": "Wavenumbers (cm⁻¹)", "titleFont": "Liberation Sans", "titleFontSize": 48, "titleFontWeight": "normal", "titleColor": "black", "titleY": 128, "titleBaseline": "top"
          }
        }
      },
      "layer": [
        {
          "data": {"name": "clay"},
          "mark": {"type": "line", "color": "black", "strokeWidth": 1.8},
          "encoding": {
            "y": {"field": "v", "type": "quantitative", "scale": {"domain": [0, 96.9], "nice": false, "zero": false}, "axis": null},
            "detail": {"field": "s"}
          }
        },
        {
          "data": {"name": "clayText"},
          "mark": {"type": "text", "font": "Liberation Sans", "fontSize": 41, "color": "black", "align": "center", "baseline": "middle", "angle": 270},
          "encoding": {
            "y": {"field": "v", "type": "quantitative", "scale": {"domain": [0, 96.9], "nice": false, "zero": false}, "axis": null},
            "text": {"field": "t"}
          }
        },
        {
          "data": {"name": "clayTitles"},
          "mark": {"type": "text", "font": "Liberation Sans", "fontSize": 47, "color": "black", "align": "left", "baseline": "middle"},
          "encoding": {
            "y": {"field": "v", "type": "quantitative", "scale": {"domain": [0, 96.9], "nice": false, "zero": false}, "axis": null},
            "text": {"field": "t"}
          }
        }
      ]
    }
  ],
  "resolve": {"scale": {"x": "independent"}, "axis": {"x": "independent"}}
}
